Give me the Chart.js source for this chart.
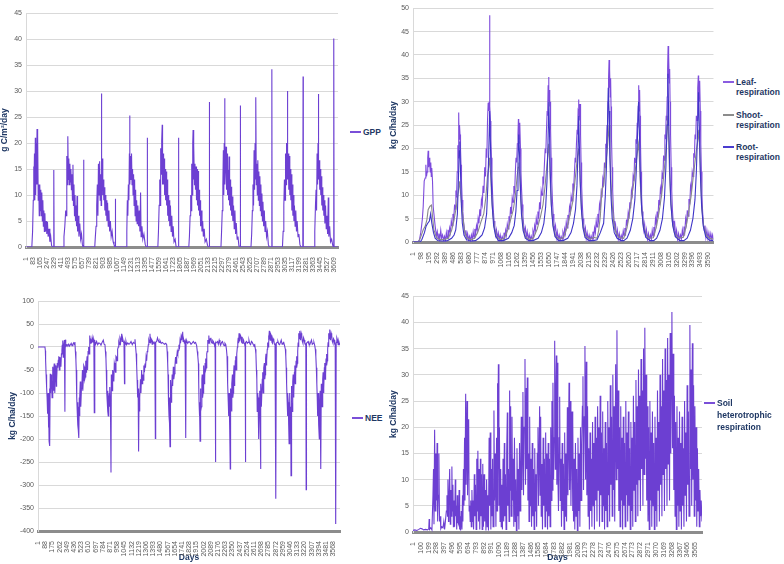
<!DOCTYPE html>
<html>
<head>
<meta charset="utf-8">
<script src="https://cdn.jsdelivr.net/npm/chart.js@4.4.0/dist/chart.umd.min.js"></script>
<style>
  body { margin: 0; background: #fff; width: 784px; height: 564px; position: relative; overflow: hidden; font-family: "Liberation Sans", Arial, sans-serif; }
  canvas { position: absolute; }
  .lg { position: absolute; font-weight: bold; font-size: 8.5px; line-height: 10px; color: #1f3864; white-space: nowrap; }
  .lg i { position: absolute; left: 0; top: 4px; width: 11px; height: 2px; }
  .lg span { display: block; padding-left: 13px; }
</style>
</head>
<body>
<canvas id="gppChart" width="345" height="282" style="left:0;top:0"></canvas>
<canvas id="respChart" width="330" height="282" style="left:389px;top:0"></canvas>
<canvas id="neeChart" width="346" height="276" style="left:0;top:288px"></canvas>
<canvas id="soilChart" width="318" height="276" style="left:389px;top:288px"></canvas>

<div class="lg" style="left:350px;top:127px"><i style="background:#7a4fd8"></i><span>GPP</span></div>
<div class="lg" style="left:723px;top:77px"><i style="background:#8a5ce0"></i><span>Leaf-</span><span>respiration</span></div>
<div class="lg" style="left:723px;top:110px"><i style="background:#8c8c8c"></i><span>Shoot-</span><span>respiration</span></div>
<div class="lg" style="left:723px;top:142px"><i style="background:#4a3ccf"></i><span>Root-</span><span>respiration</span></div>
<div class="lg" style="left:352px;top:413px"><i style="background:#7a4fd8"></i><span>NEE</span></div>
<div class="lg" style="left:704px;top:397px;line-height:12px"><i style="background:#7a4fd8;top:5px"></i><span>Soil</span><span>heterotrophic</span><span>respiration</span></div>

<script>
// tick labels of the four category axes (days)
const gppTicks = [1,83,165,247,329,411,493,575,657,739,821,903,985,1067,1149,1231,1313,1395,1477,1559,1641,1723,1805,1887,1969,2051,2133,2215,2297,2379,2461,2543,2625,2707,2789,2871,2953,3035,3117,3199,3281,3363,3445,3527,3609];
const respTicks = [1,98,195,292,389,486,583,680,777,874,971,1068,1165,1262,1359,1456,1553,1650,1747,1844,1941,2038,2135,2232,2329,2426,2523,2620,2717,2814,2911,3008,3105,3202,3299,3396,3493,3590];
const neeTicks = [1,88,175,262,349,436,523,610,697,784,871,958,1045,1132,1219,1306,1393,1480,1567,1654,1741,1828,1915,2002,2089,2176,2263,2350,2437,2524,2611,2698,2785,2872,2959,3046,3133,3220,3307,3394,3481,3568];
const soilTicks = [1,100,199,298,397,496,595,694,793,892,991,1090,1189,1288,1387,1486,1585,1684,1783,1882,1981,2080,2179,2278,2377,2476,2575,2674,2773,2872,2971,3070,3169,3268,3367,3466,3565];

// [day, value]
const gpp = [
  [1,0],[60,0],[70,0.3],[78,3],[86,9],[90,15.5],[94,9],[100,18],[104,9],[110,21],[114,10],[120,20],[124,12],[130,22.7],[134,12],[140,21.5],[144,9],[150,12],[156,6],[162,12],[168,7],[174,11],[180,6],[186,10.5],[192,5],[198,9],[204,4],[210,7],[216,3],[222,6.5],[228,3],[236,5],[244,2.5],[252,4.8],[260,2],[270,3.5],[280,1],[290,2],[300,0.3],[310,0],[322,0],[326,14.8],[330,0],
  [435,0],[445,2],[455,4],[465,7],[472,6],[478,17.5],[484,12],[490,21.3],[496,13],[502,17],[508,12],[514,16],[520,12.5],[526,15],[532,11],[538,14],[544,9],[550,15.8],[556,8],[562,12],[568,6],[574,10],[580,5],[586,8],[592,4],[598,9.8],[604,3],[612,6],[620,2],[630,4.5],[640,1.5],[650,2.5],[660,0.5],[668,0],[674,0],[676,16.8],[679,0],
  [805,0],[812,2],[820,4],[828,8],[835,12],[842,6],[848,16],[855,10],[862,16.5],[868,9],[875,14],[880,8],[883,29.5],[887,11],[893,17],[899,10],[905,13],[911,9],[917,11.5],[923,7],[929,10],[935,6],[941,9],[947,5],[955,8.5],[963,4],[971,7],[979,3],[988,5],[997,2],[1008,3],[1020,1],[1030,0.5],[1038,0],[1043,0],[1046,9.3],[1049,0],
  [1174,0],[1180,3],[1186,9],[1192,6],[1198,12],[1204,9],[1210,18],[1213,25.3],[1217,12],[1223,17.5],[1229,13],[1235,18],[1241,12],[1247,15],[1253,10],[1259,14],[1265,8],[1271,13],[1277,6],[1283,11],[1289,5],[1295,9],[1301,4.5],[1309,8],[1317,4],[1325,7],[1333,3],[1341,10.5],[1347,2],[1357,4],[1367,1.5],[1380,2.5],[1395,0.5],[1407,0],[1416,0],[1419,21],[1422,0],
  [1543,0],[1550,3],[1558,8],[1565,13],[1570,8],[1576,19],[1582,14],[1588,20.5],[1594,23.5],[1598,12],[1604,18],[1610,12],[1616,17],[1622,10],[1628,15],[1634,9],[1640,14.5],[1646,8],[1652,13],[1658,6],[1664,10],[1670,5],[1676,9],[1682,4],[1690,8],[1698,3],[1706,6],[1714,2],[1722,4],[1732,1],[1745,1.5],[1757,0],[1780,0],[1784,21],[1788,0],
  [1905,0],[1912,2],[1920,6],[1927,10],[1933,7],[1939,16],[1945,10],[1951,20],[1955,22.5],[1959,13],[1965,19.5],[1971,12],[1977,16],[1983,11],[1989,15.5],[1995,9],[2001,15],[2007,8],[2013,14.6],[2019,7],[2025,11],[2031,6],[2037,9],[2043,4],[2051,7],[2059,3],[2067,5],[2075,2],[2085,3.5],[2095,1],[2110,1.5],[2124,0.3],[2134,0],[2142,0],[2145,27.9],[2148,0],
  [2281,0],[2288,3],[2296,7],[2303,12],[2309,18.6],[2314,10],[2319,20],[2324,28.6],[2328,12],[2334,16],[2340,19.3],[2346,11],[2352,18],[2358,10],[2364,14.8],[2370,9],[2376,17.4],[2382,8],[2388,13],[2394,7],[2400,11.6],[2406,6],[2412,9.7],[2420,5],[2428,8],[2436,3.5],[2444,7],[2452,2.5],[2460,4.6],[2470,1.5],[2480,2],[2490,0.3],[2495,0],[2504,0],[2507,27.2],[2510,0],
  [2632,0],[2640,2.5],[2648,7],[2655,12],[2662,8],[2668,18.6],[2674,11],[2680,20],[2686,13],[2690,28.8],[2694,12],[2700,16],[2706,10],[2712,16.7],[2718,9],[2724,14.5],[2730,8],[2736,13.6],[2742,7],[2748,12],[2754,6],[2760,10.3],[2766,5],[2772,8.7],[2780,4],[2788,7],[2796,3],[2804,5],[2814,2],[2824,3],[2835,0.5],[2845,0],[2873,0],[2876,34.2],[2879,0],
  [3000,0],[3008,3],[3016,8],[3023,13],[3030,9],[3036,18],[3042,12],[3048,20],[3054,14],[3058,30],[3062,13],[3068,18],[3074,11],[3080,17.5],[3086,10],[3092,15],[3098,9],[3104,14],[3110,7],[3116,12],[3122,6],[3128,10],[3134,5],[3140,8],[3148,4],[3156,7],[3164,3],[3172,5],[3182,2],[3192,2.5],[3204,0.5],[3214,0],[3238,0],[3241,32.8],[3244,0],
  [3370,0],[3378,3],[3386,8],[3393,11],[3399,7],[3405,18],[3411,12],[3416,20],[3420,29.4],[3424,13],[3430,16.7],[3436,11],[3442,15],[3448,10],[3454,13.6],[3460,8],[3466,11.5],[3472,7],[3478,10],[3484,6],[3490,9],[3496,4.5],[3504,8],[3512,3.5],[3520,6],[3528,2.5],[3536,9.5],[3542,2],[3552,4],[3562,1],[3575,1.5],[3588,0.3],[3596,0],[3600,40.1],[3604,0],[3650,0]
];

const leafResp = [
  [1,0],[60,0],[80,0.5],[95,2],[105,3.4],[115,5],[125,7.6],[137,13],[149,13.7],[157,16.5],[165,14],[173,15],[180,18],[185,19.5],[191,16],[197,18],[205,16.5],[211,15],[217,17],[223,14],[229,15.8],[238,13],[246,7.6],[258,5.5],[270,3.4],[286,1.3],[296,2.2],[306,0.6],[316,1.8],[326,0.5],[338,2.5],[348,0.8],[360,1.5],[372,0.4],[384,1.2],[396,0.3],[406,2],[416,0.8],[426,2.6],
  [436,1.5],[446,3],[456,2],[466,4.5],[476,3.5],[486,6],[496,5],[506,8],[514,7],[522,11],[530,9.5],[538,15],[546,20.7],[552,18],[556,27.7],[560,22],[566,25],[572,23],[578,20],[584,16.5],[590,13],[598,9],[606,6.5],[614,4.5],[624,3],[634,1.5],[644,2.5],[654,0.8],[664,1.8],[674,0.4],[686,1.2],[698,0.3],[710,1.5],[722,0.5],[732,2.2],[742,1],[752,2.8],
  [762,1.8],[772,3.5],[782,2.5],[792,5],[802,4],[812,7],[822,5.5],[832,9],[842,8],[852,12],[862,10.5],[872,16],[882,14],[890,20],[898,18],[906,26],[914,29.8],[920,28],[926,30],[931,48.5],[935,29],[941,25.9],[947,22],[953,18],[960,14],[968,10],[976,7],[985,4.5],[995,3],[1005,1.5],[1015,2.6],[1026,0.8],[1037,1.9],[1048,0.5],[1060,1.5],[1072,0.3],[1084,1.2],[1096,0.6],[1106,2],
  [1116,1],[1126,2.5],[1136,1.5],[1146,3.8],[1156,2.8],[1166,5.5],[1176,4.5],[1186,7.5],[1196,6],[1206,9.5],[1216,8.5],[1226,12],[1236,11],[1244,15],[1252,18],[1260,17],[1268,21],[1276,23],[1281,26.3],[1285,22],[1290,25.5],[1295,21],[1300,25.5],[1306,20],[1312,15],[1320,11],[1328,8],[1336,5.5],[1346,3.5],[1356,2],[1366,3],[1377,1],[1388,2.2],[1400,0.5],[1412,1.6],[1424,0.4],[1436,1.3],[1448,0.6],[1458,2.3],
  [1468,1.5],[1478,3.5],[1488,2.5],[1498,5],[1508,3.8],[1518,6.5],[1528,5],[1538,8.5],[1548,7],[1558,11],[1568,10],[1578,14],[1588,13],[1598,17],[1606,20],[1614,19],[1622,24],[1630,28],[1636,27],[1642,33.5],[1648,35.3],[1652,30],[1657,32.5],[1662,29],[1667,30],[1672,24],[1678,18],[1686,13],[1694,9],[1703,6],[1712,4],[1722,2.5],[1732,3.5],[1742,1],[1753,2.2],[1764,0.5],[1776,1.5],[1788,0.4],[1800,1.2],[1812,0.6],[1822,2],
  [1832,1.2],[1842,2.8],[1852,1.8],[1862,4.2],[1872,3],[1882,5.8],[1892,4.6],[1902,7.5],[1912,6.5],[1922,9.8],[1932,8.8],[1942,12.5],[1952,11.5],[1962,15],[1970,18],[1978,17],[1986,21],[1994,24],[2000,23],[2006,28],[2011,30.5],[2016,27.5],[2021,29.5],[2026,26],[2031,29.5],[2036,23],[2042,17],[2049,12],[2057,8],[2066,5],[2075,3.5],[2085,2],[2095,3],[2105,0.8],[2116,2],[2128,0.5],[2140,1.5],[2152,0.4],[2164,1.3],[2176,0.6],[2186,2.2],
  [2196,1.2],[2206,3],[2216,2],[2226,4.5],[2236,3.2],[2246,6],[2256,4.8],[2266,8],[2276,6.8],[2286,10.5],[2296,9.5],[2306,13.5],[2316,12.5],[2326,17],[2334,16],[2342,21],[2350,20],[2358,25],[2364,24],[2370,30],[2376,35],[2382,38.9],[2386,33],[2391,37],[2396,31],[2401,35],[2406,29],[2412,22],[2419,16],[2426,11],[2434,7],[2443,4.5],[2452,2.5],[2462,3.5],[2472,1],[2483,2.5],[2494,0.6],[2506,1.8],[2518,0.4],[2530,1.4],[2542,0.6],[2554,2.4],
  [2564,1.4],[2574,3],[2584,2],[2594,4.8],[2604,3.5],[2614,6.2],[2624,5],[2634,8.5],[2644,7.2],[2654,11],[2664,10],[2674,14],[2684,13],[2692,18],[2700,17],[2708,22],[2716,21],[2724,25.5],[2730,24.5],[2736,29],[2740,32.5],[2744,33.5],[2748,28],[2753,32.5],[2758,27],[2764,21],[2770,15],[2777,10],[2785,6.5],[2794,4],[2804,2.5],[2814,3.8],[2825,1],[2836,2.6],[2848,0.6],[2860,1.8],[2872,0.4],[2884,1.5],[2896,0.6],[2906,2.5],[2916,1.3],
  [2926,3.2],[2936,2.2],[2946,5],[2956,3.8],[2966,6.5],[2976,5.2],[2986,9],[2996,7.8],[3006,11.5],[3016,10.5],[3026,14.5],[3036,13.5],[3044,18.5],[3052,17.5],[3060,23],[3068,22],[3076,27],[3082,26],[3088,31],[3093,37],[3099,41.9],[3103,35],[3108,40],[3113,34],[3118,37],[3123,30],[3129,23],[3136,16],[3143,11],[3151,7],[3160,4.5],[3170,2.5],[3180,3.8],[3191,1],[3202,2.5],[3214,0.6],[3226,1.8],[3238,0.4],[3250,1.5],[3262,0.7],[3272,2.6],[3282,1.4],
  [3292,3.3],[3302,2.3],[3312,5],[3322,3.8],[3332,6.8],[3342,5.5],[3352,9.2],[3362,8],[3372,12],[3382,11],[3392,15],[3402,14],[3410,19],[3418,18],[3426,23],[3434,22],[3442,27],[3450,26],[3456,30],[3462,33],[3466,35.6],[3470,31],[3475,34.5],[3480,30],[3485,34.5],[3490,28],[3496,21],[3503,15],[3510,10],[3518,6.5],[3527,4],[3537,2.5],[3547,3.5],[3558,1],[3570,2.5],[3582,0.8],[3594,2],[3606,0.5],[3618,1.8],[3630,0.6],[3640,1.5],[3650,0.5]
];

const shootResp = [
  [1,0],[70,0],[100,1.3],[125,2.6],[150,3.4],[170,4.8],[185,6.9],[205,7.6],[225,7.9],[238,5.5],[255,2.6],[286,0.9],[330,0.5],[380,0.6],[430,0.8],
  [470,2.5],[500,4.8],[528,7.6],[545,10],[558,11.6],[568,13],[578,10.5],[590,8.3],[605,5.5],[625,2.6],[650,0.9],[700,0.5],[750,0.8],
  [790,2.2],[830,4.5],[860,6],[885,9.5],[905,14],[920,16],[931,18],[942,15],[955,10],[970,6],[990,3],[1015,1.2],[1060,0.5],[1110,0.8],
  [1150,2.5],[1190,5],[1220,7],[1245,10],[1265,14],[1278,16],[1288,17],[1298,14],[1310,9],[1325,5.5],[1345,2.5],[1370,1],[1420,0.5],[1465,0.9],
  [1510,2.8],[1550,5.5],[1580,8],[1605,12],[1625,16],[1640,19],[1650,21],[1660,17],[1672,11],[1688,6],[1708,3],[1735,1.2],[1785,0.6],[1830,1],
  [1870,3],[1910,6],[1940,8.5],[1965,12.5],[1985,16],[2000,18.5],[2012,20],[2022,17],[2035,11],[2050,6],[2070,3],[2100,1.2],[2150,0.6],[2195,1],
  [2236,0.8],[2256,2.5],[2276,5.5],[2296,11.4],[2316,12],[2336,16],[2356,19],[2370,22],[2382,25],[2392,20],[2405,13],[2420,8],[2440,4],[2465,2],[2500,1],[2560,0.8],
  [2600,3],[2630,6],[2660,10],[2685,13],[2705,16],[2725,19],[2738,21],[2748,19],[2760,13],[2775,8],[2795,4],[2820,2],[2860,0.8],[2920,0.9],
  [2960,3.5],[2990,6.5],[3020,10],[3045,14],[3065,18],[3082,22],[3095,27],[3104,23],[3116,15],[3130,9],[3150,4.5],[3175,2],[3220,0.8],[3285,1],
  [3320,3.5],[3350,6.5],[3380,10],[3405,14],[3425,17],[3445,20],[3462,22],[3472,24],[3482,20],[3495,13],[3510,7],[3530,3.5],[3560,1.5],[3600,0.8],[3650,0.6]
];

const rootResp = [
  [1,0],[90,0],[110,0.6],[140,2],[160,3.4],[180,4],[200,4.5],[215,6],[230,4],[250,2],[270,0.8],[300,0.3],[350,0.2],[420,0.3],
  [470,0.8],[500,1.5],[520,2.6],[540,6],[552,13],[562,19.5],[570,21.5],[578,15],[588,8],[600,4],[620,1.5],[650,0.5],[700,0.2],[760,0.3],
  [800,0.8],[840,1.5],[870,3],[895,6],[910,12],[922,20],[932,28],[940,22],[950,14],[962,8],[980,3.5],[1005,1.2],[1040,0.3],[1100,0.3],
  [1160,0.8],[1200,2],[1230,3.5],[1250,6.5],[1265,11],[1276,18],[1286,23],[1294,19],[1305,12],[1318,6],[1338,2.5],[1365,0.8],[1410,0.3],[1460,0.3],
  [1520,0.8],[1560,2],[1590,4],[1612,7.5],[1628,13],[1640,21],[1650,30],[1658,24],[1668,15],[1680,8],[1700,3.5],[1725,1.2],[1770,0.3],[1825,0.3],
  [1880,0.8],[1920,2],[1950,4],[1975,7],[1992,12],[2004,19],[2013,27],[2021,21],[2032,13],[2046,7],[2065,3],[2090,1],[2140,0.3],[2190,0.3],
  [2236,0.5],[2276,2],[2316,4],[2336,9.7],[2350,16],[2362,24],[2372,33],[2382,28],[2392,18],[2405,10],[2420,5],[2445,2],[2480,0.8],[2530,0.3],[2560,0.3],
  [2600,0.8],[2640,2.5],[2670,5],[2695,9],[2712,15],[2726,22],[2740,30],[2750,24],[2762,14],[2778,7],[2800,3],[2830,1],[2880,0.3],[2925,0.3],
  [2960,0.8],[3000,2.5],[3030,5],[3055,9.5],[3072,16],[3086,25],[3097,36],[3106,27],[3118,16],[3133,8],[3155,3.5],[3185,1.2],[3240,0.3],[3290,0.3],
  [3330,0.8],[3370,2.5],[3400,5],[3425,9],[3442,15],[3456,23],[3468,32],[3478,25],[3490,15],[3505,8],[3525,3.5],[3555,1.2],[3600,0.4],[3650,0.3]
];

const nee = [
  [1,0],[85,0],[90,-8],[93,-29],[99,-60],[105,-87],[111,-110],[117,-145],[123,-100],[127,-175],[131,-120],[135,-205],[139,-90],[142,-150],[145,-215],[149,-58],[153,-100],[159,-60],[165,-72],[171,-110],[177,-43],[181,-75],[185,-94],[191,-50],[197,-36],[202,-80],[206,-100],[212,-40],[218,-50],[222,-85],[226,-72],[234,-35],[240,-45],[246,-29],[252,-20],[258,-50],[266,-22],[272,-30],[278,-43],[284,-15],[290,-7],[294,5],[298,14],[302,-5],[306,-22],[310,6],[314,4],[320,15],[326,-141],[330,16],[336,8],[342,2],[352,5],[362,3],[372,6],[382,2],[392,5],[402,8],[412,3],[422,6],[432,9],[442,5],[447,11],
  [453,-10],[459,-29],[463,-50],[467,-72],[471,-110],[476,-145],[480,-120],[484,-170],[488,-181],[492,-130],[496,-198],[500,-110],[504,-150],[507,-107],[512,-75],[516,-115],[520,-130],[526,-90],[532,-80],[538,-50],[542,-95],[548,-72],[554,-40],[560,-43],[566,-70],[572,-65],[578,-30],[583,-55],[588,-36],[594,-20],[600,-50],[606,-10],[613,0],[618,-15],[623,10],[629,25],[635,8],[641,15],[649,12],[655,20],[662,10],[669,18],[676,8],[681,-143],[685,15],[689,12],[697,6],[709,12],[722,5],[735,9],[750,8],[762,4],[775,10],[790,15],[800,6],[810,5],
  [816,-10],[822,-25],[826,-50],[830,-72],[834,-100],[838,-120],[842,-95],[846,-140],[850,-150],[856,-110],[862,-100],[866,-130],[870,-87],[876,-120],[883,-273],[887,-60],[891,-72],[897,-95],[903,-50],[911,-58],[917,-75],[923,-35],[931,-43],[937,-55],[943,-20],[951,-22],[957,-30],[963,-5],[971,0],[977,10],[983,5],[991,17],[999,10],[1005,22],[1011,29],[1017,12],[1025,18],[1032,12],[1040,8],[1046,-80],[1050,10],[1058,6],[1064,12],[1072,5],[1085,9],[1100,6],[1112,8],[1125,12],[1140,5],[1153,10],[1165,8],[1173,17],
  [1180,0],[1187,-14],[1193,-40],[1199,-72],[1205,-110],[1211,-90],[1215,-150],[1218,-227],[1222,-100],[1227,-140],[1233,-110],[1239,-70],[1245,-100],[1253,-50],[1259,-80],[1266,-60],[1274,-72],[1280,-40],[1287,-55],[1294,-36],[1300,-45],[1307,-22],[1314,-30],[1320,-10],[1327,-7],[1334,5],[1340,15],[1347,10],[1354,29],[1360,8],[1367,18],[1374,15],[1380,6],[1387,12],[1394,10],[1405,7],[1412,12],[1419,-199],[1423,10],[1435,12],[1445,20],[1455,14],[1465,10],[1475,14],[1490,8],[1505,10],[1515,8],[1530,6],[1545,8],[1556,5],
  [1562,-10],[1568,-36],[1572,-60],[1576,-90],[1580,-120],[1584,-150],[1588,-110],[1592,-165],[1596,-217],[1600,-100],[1604,-72],[1610,-120],[1616,-94],[1622,-60],[1628,-85],[1636,-43],[1642,-70],[1650,-58],[1656,-40],[1663,-22],[1670,-35],[1677,-22],[1684,-10],[1690,-15],[1697,-7],[1704,5],[1710,-5],[1717,14],[1723,8],[1730,22],[1737,15],[1743,28],[1749,33],[1754,12],[1760,17],[1768,10],[1778,14],[1786,-198],[1790,10],[1798,14],[1810,8],[1825,12],[1838,10],[1850,6],[1865,9],[1878,12],[1892,8],[1905,10],[1918,3],
  [1926,-10],[1932,-20],[1939,-36],[1943,-80],[1947,-120],[1951,-150],[1955,-130],[1959,-205],[1963,-90],[1969,-140],[1975,-130],[1981,-70],[1985,-60],[1990,-110],[1995,-100],[2000,-55],[2005,-40],[2010,-80],[2015,-70],[2020,-35],[2025,-25],[2030,-50],[2035,-45],[2040,-15],[2045,-10],[2050,5],[2055,15],[2060,8],[2065,25],[2070,12],[2075,10],[2082,18],[2090,20],[2097,10],[2105,8],[2112,14],[2120,12],[2128,6],[2135,5],[2141,8],[2145,-250],[2149,8],[2160,10],[2170,12],[2180,6],[2190,15],[2200,8],[2210,5],[2220,10],[2230,12],[2240,6],[2250,3],[2260,8],[2270,5],
  [2278,-5],[2285,-20],[2290,-50],[2295,-80],[2300,-120],[2305,-150],[2310,-100],[2315,-120],[2320,-180],[2324,-265],[2328,-90],[2334,-120],[2340,-140],[2345,-80],[2350,-60],[2355,-110],[2360,-100],[2365,-55],[2370,-40],[2375,-85],[2380,-70],[2385,-30],[2390,-20],[2395,-50],[2400,-45],[2405,-15],[2410,0],[2415,10],[2420,20],[2425,8],[2430,30],[2435,15],[2440,12],[2448,25],[2455,22],[2462,10],[2470,8],[2477,18],[2485,15],[2492,8],[2500,5],[2504,6],[2507,-250],[2511,10],[2520,12],[2530,8],[2540,10],[2550,15],[2560,7],[2570,5],[2580,12],[2590,10],[2600,6],[2610,3],[2620,5],
  [2628,-5],[2634,-15],[2640,-50],[2645,-70],[2650,-140],[2655,-100],[2660,-110],[2665,-160],[2670,-200],[2675,-120],[2680,-95],[2685,-150],[2690,-265],[2694,-80],[2700,-130],[2706,-130],[2711,-70],[2716,-55],[2721,-100],[2726,-90],[2731,-45],[2736,-35],[2741,-70],[2746,-60],[2751,-25],[2756,-15],[2761,-40],[2766,-30],[2771,-5],[2776,10],[2781,0],[2786,25],[2791,15],[2796,35],[2801,20],[2806,15],[2813,28],[2820,25],[2828,10],[2835,8],[2842,18],[2850,15],[2858,6],[2865,5],[2872,8],[2876,-330],[2880,8],[2890,10],[2900,12],[2910,6],[2920,5],[2930,10],[2940,15],[2950,6],[2960,8],[2970,10],[2980,3],
  [2990,-5],[2995,-20],[3000,-45],[3005,-80],[3010,-110],[3015,-150],[3020,-100],[3025,-120],[3030,-170],[3035,-210],[3040,-110],[3045,-100],[3050,-160],[3055,-130],[3058,-280],[3062,-85],[3068,-120],[3074,-140],[3079,-75],[3084,-60],[3089,-110],[3094,-100],[3099,-55],[3104,-40],[3109,-80],[3114,-65],[3119,-30],[3124,-20],[3129,-45],[3134,-35],[3139,-10],[3144,10],[3149,0],[3154,30],[3159,18],[3164,35],[3169,22],[3174,15],[3181,30],[3188,25],[3195,12],[3202,8],[3210,20],[3218,15],[3225,8],[3232,5],[3237,8],[3241,-310],[3245,8],[3255,10],[3265,12],[3275,6],[3285,5],[3295,10],[3305,15],[3315,6],[3325,8],[3335,10],[3345,3],
  [3352,-5],[3358,-20],[3364,-45],[3370,-80],[3375,-110],[3380,-150],[3385,-100],[3390,-110],[3395,-170],[3400,-200],[3405,-120],[3410,-95],[3415,-150],[3420,-265],[3424,-80],[3430,-130],[3436,-130],[3441,-70],[3446,-55],[3451,-100],[3456,-90],[3461,-45],[3466,-35],[3471,-70],[3476,-60],[3481,-25],[3486,-15],[3491,-40],[3496,-30],[3501,-5],[3506,10],[3511,0],[3516,30],[3521,18],[3526,38],[3531,22],[3536,15],[3543,30],[3550,25],[3557,12],[3565,8],[3572,18],[3580,15],[3586,6],[3592,5],[3596,8],[3600,-385],[3604,10],[3612,20],[3620,15],[3628,5],[3636,12],[3644,6],[3650,8]
];

const soilResp = [
  [1,0.3],[25,0.4],[50,0.3],[75,0.5],[95,0.7],[115,0.6],[135,0.4],[160,0.5],[185,0.4],[200,0.6],[205,2.5],[210,0.5],[225,0.8],[240,0.4],[253,7],[260,12],[266,1.5],[274,19.5],[282,4],[290,15],[298,6],[305,17],[312,2],[320,7],[328,15],[336,2],[345,3],[352,0.6],[365,1],
  [379,0.8],[390,2],[400,0.5],[413,2.5],[422,4],[430,7],[437,3],[442,10],[449,2],[455,5.5],[464,12],[472,1.5],[478,8],[486,3],[492,12.5],[498,4],[505,9],[511,1],[518,6],[526,1],[535,10],[541,3],[547,5],[553,0.5],[560,7],[566,2],[577,1.5],[583,8],[590,0.5],[596,3],[602,0.3],[610,4],[619,0.5],[626,7],[631,2],[638,12],[644,5],[652,18],[657,6],[666,26.4],[672,9],[683,25],[690,7],[697,16],[704,21.5],[710,4],[716,5],[723,2],[730,6],
  [737,1],[745,8],[752,2],[758,6],[766,0.5],[775,11],[782,3],[790,9],[798,0.5],[806,14],[812,4],[820,15.5],[828,2],[836,12],[844,0.5],[852,14],[858,3],[866,11],[874,0.5],[882,13],[890,1],[898,11],[906,2],[914,8],[922,0.3],[930,10],[938,1],[946,7],[954,0.3],[962,18],[968,5],[976,19],[984,0.5],[992,12],[998,3],[1006,14],[1012,1],[1023,23.2],[1030,6],[1040,15],[1048,1],[1056,18],[1062,4],[1066,28.4],[1072,10],[1079,32],[1086,5],[1092,20],
  [1100,2],[1108,12],[1115,1],[1122,9],[1130,0.5],[1138,14],[1146,2],[1154,17],[1160,3],[1168,11],[1176,0.5],[1184,15],[1192,22.8],[1198,5],[1206,12],[1214,2],[1221,27],[1227,8],[1234,24],[1240,3],[1251,22],[1258,6],[1266,14],[1274,1],[1282,18],[1290,2],[1298,10],[1306,0.3],[1314,16],[1322,3],[1330,12],[1338,0.5],[1346,17],[1354,4],[1362,13],[1368,22],[1376,8],[1384,18],[1389,26.7],[1396,7],[1405,20],[1415,33],[1422,9],[1432,27.5],[1438,12],[1444,29.5],[1452,6],[1460,15],
  [1466,2],[1474,22],[1482,5],[1490,14],[1498,1],[1506,17],[1514,3],[1522,12],[1530,0.5],[1538,16],[1546,4],[1554,11],[1562,1],[1570,15],[1579,20],[1586,5],[1600,24],[1606,7],[1613,22],[1620,3],[1628,13],[1636,0.5],[1644,18],[1652,5],[1660,14],[1668,1],[1676,19],[1684,4],[1692,15],[1700,0.5],[1708,17],[1716,3],[1724,14],[1732,1],[1740,20],[1748,6],[1755,25],[1762,8],[1768,28.5],[1776,10],[1783,18],[1790,36.5],[1798,12],[1804,25],[1811,33.7],[1817,9],[1823,32.3],[1830,11],
  [1838,4],[1846,18],[1853,25.8],[1860,6],[1868,14],[1876,1],[1884,17],[1892,4],[1900,13],[1908,0.5],[1916,19],[1924,3],[1932,15],[1940,2],[1950,23.8],[1957,7],[1965,18],[1971,28.5],[1978,8],[1988,25],[1995,5],[2002,15],[2009,23],[2015,4],[2021,21],[2028,2],[2036,14],[2044,0.5],[2052,17],[2060,3],[2068,12],[2076,0.3],[2084,18],[2092,4],[2100,15],[2108,1],[2116,20],[2124,6],[2132,17],[2140,24],[2147,29.7],[2154,8],[2164,22],[2172,35.5],[2180,10],[2189,32.5],[2196,7],
  [2205,24],[2212,3],[2220,16],[2228,0.5],[2236,19],[2244,4],[2252,14],[2260,1],[2268,21],[2276,5],[2284,17],[2292,0.5],[2300,22],[2308,6],[2316,18],[2324,2],[2332,24],[2340,8],[2348,20],[2356,1],[2364,26],[2372,7],[2380,19],[2388,2],[2396,23],[2404,5],[2412,16],[2420,0.5],[2428,21],[2436,4],[2444,17],[2452,1],[2460,25],[2468,7],[2476,20],[2484,2],[2492,28],[2500,9],[2508,22],[2516,3],[2524,30],[2532,8],[2540,24],[2548,2],
  [2560,32],[2568,10],[2576,38.5],[2584,12],[2592,27],[2600,4],[2608,20],[2616,1],[2624,24],[2632,6],[2640,18],[2648,0.5],[2656,22],[2664,5],[2672,17],[2680,1],[2688,25],[2696,7],[2704,19],[2712,2],[2720,23],[2728,5],[2736,16],[2744,0.5],[2752,21],[2760,4],[2768,18],[2776,1],[2784,26],[2792,8],[2800,21],[2808,2],[2816,29],[2824,9],[2832,24],[2840,3],[2848,31],[2856,10],[2864,26],[2872,4],[2880,33],[2888,12],[2896,27],[2904,5],[2912,35],[2920,11],
  [2928,39],[2936,14],[2944,30],[2952,6],[2960,24],[2968,2],[2976,20],[2984,0.5],[2992,25],[3000,6],[3008,19],[3016,1],[3024,23],[3032,5],[3040,17],[3048,0.5],[3056,22],[3064,4],[3072,18],[3080,1],[3088,27],[3096,8],[3104,21],[3112,2],[3120,30],[3128,9],[3136,24],[3144,3],[3152,33],[3160,11],[3168,27],[3176,4],[3184,35],[3192,12],[3200,29],[3208,5],[3216,37],[3224,13],[3232,30],[3240,6],[3248,38],[3256,15],[3264,32],[3270,42],[3278,16],[3286,34],
  [3294,8],[3302,26],[3310,3],[3318,21],[3326,0.5],[3334,24],[3342,5],[3350,18],[3358,1],[3366,23],[3374,4],[3382,17],[3390,0.5],[3398,22],[3406,5],[3414,16],[3422,1],[3430,25],[3438,7],[3446,19],[3454,2],[3462,28],[3470,9],[3478,23],[3486,3],[3497,39.5],[3504,12],[3512,31],[3520,5],[3528,36],[3536,10],[3544,28],[3552,3],[3560,24],[3568,6],[3576,20],[3584,1],[3592,16],[3600,4],[3608,12],[3616,1],[3624,8],[3632,3],[3640,6],[3650,2]
];

const tickFont = { family: '"Liberation Sans", Arial, sans-serif', size: 7 };
const titleFont = { family: '"Liberation Sans", Arial, sans-serif', size: 8.5, weight: 'bold' };

function makeChart(id, box, plot, yMin, yMax, yStep, xTicks, datasets, yTitle, yTitlePad, xTitle) {
    const ctx = document.getElementById(id).getContext('2d');
    return new Chart(ctx, {
        type: 'line',
        data: { datasets },
        options: {
            responsive: false,
            animation: false,
            layout: { padding: { left: 0, bottom: 0, top: plot.top - box.top, right: box.left + box.width - plot.right } },
            plugins: { legend: { display: false }, tooltip: { enabled: false } },
            elements: { point: { radius: 0 }, line: { borderWidth: 1, tension: 0 } },
            scales: {
                x: {
                    type: 'linear', min: 1, max: 3650,
                    afterBuildTicks: s => { s.ticks = xTicks.map(v => ({ value: v })); },
                    afterFit: s => { s.height = box.top + box.height - plot.bottom; },
                    grid: { display: false },
                    border: { color: '#8c8c8c', width: 3 },
                    ticks: { autoSkip: false, minRotation: 90, maxRotation: 90, padding: 2, font: tickFont, color: '#595959', callback: v => String(v) },
                    title: { display: !!xTitle, text: xTitle || '', font: titleFont, color: '#1f3864', padding: { top: 0, bottom: 1 } }
                },
                y: {
                    min: yMin, max: yMax,
                    afterFit: s => { s.width = plot.left - box.left; },
                    grid: { color: '#d9d9d9', drawTicks: false },
                    border: { color: '#d9d9d9' },
                    ticks: { stepSize: yStep, padding: 4, font: tickFont, color: '#595959' },
                    title: { display: true, text: yTitle, font: titleFont, color: '#1f3864', padding: { top: yTitlePad, bottom: 0 } }
                }
            }
        }
    });
}

const line = (data, color, order) => ({ data, borderColor: color, borderWidth: 1.1, pointRadius: 0, order });

makeChart('gppChart', { left: 0, top: 0, width: 345, height: 282 }, { left: 26, top: 13, right: 339, bottom: 247 },
    0, 45, 5, gppTicks, [line(gpp, '#6c3fd2', 0)], 'g C/m²/day', 0, null);

makeChart('respChart', { left: 389, top: 0, width: 330, height: 282 }, { left: 413, top: 4, right: 715, bottom: 242 },
    0, 50, 5, respTicks, [
        line(leafResp, '#7d4bdc', 2),
        line(shootResp, '#8a8a8a', 1),
        line(rootResp, '#3f35c8', 0)
    ], 'kg C/ha/day', 0, null);

makeChart('neeChart', { left: 0, top: 288, width: 346, height: 276 }, { left: 38, top: 301, right: 340, bottom: 531 },
    -400, 100, 50, neeTicks, [line(nee, '#6c3fd2', 0)], 'kg C/ha/day', 8, 'Days');

makeChart('soilChart', { left: 389, top: 288, width: 318, height: 276 }, { left: 413, top: 295, right: 702, bottom: 532 },
    0, 45, 5, soilTicks, [line(soilResp, '#6c3fd2', 0)], 'kg C/ha/day', 0, 'Days');
</script>
</body>
</html>
